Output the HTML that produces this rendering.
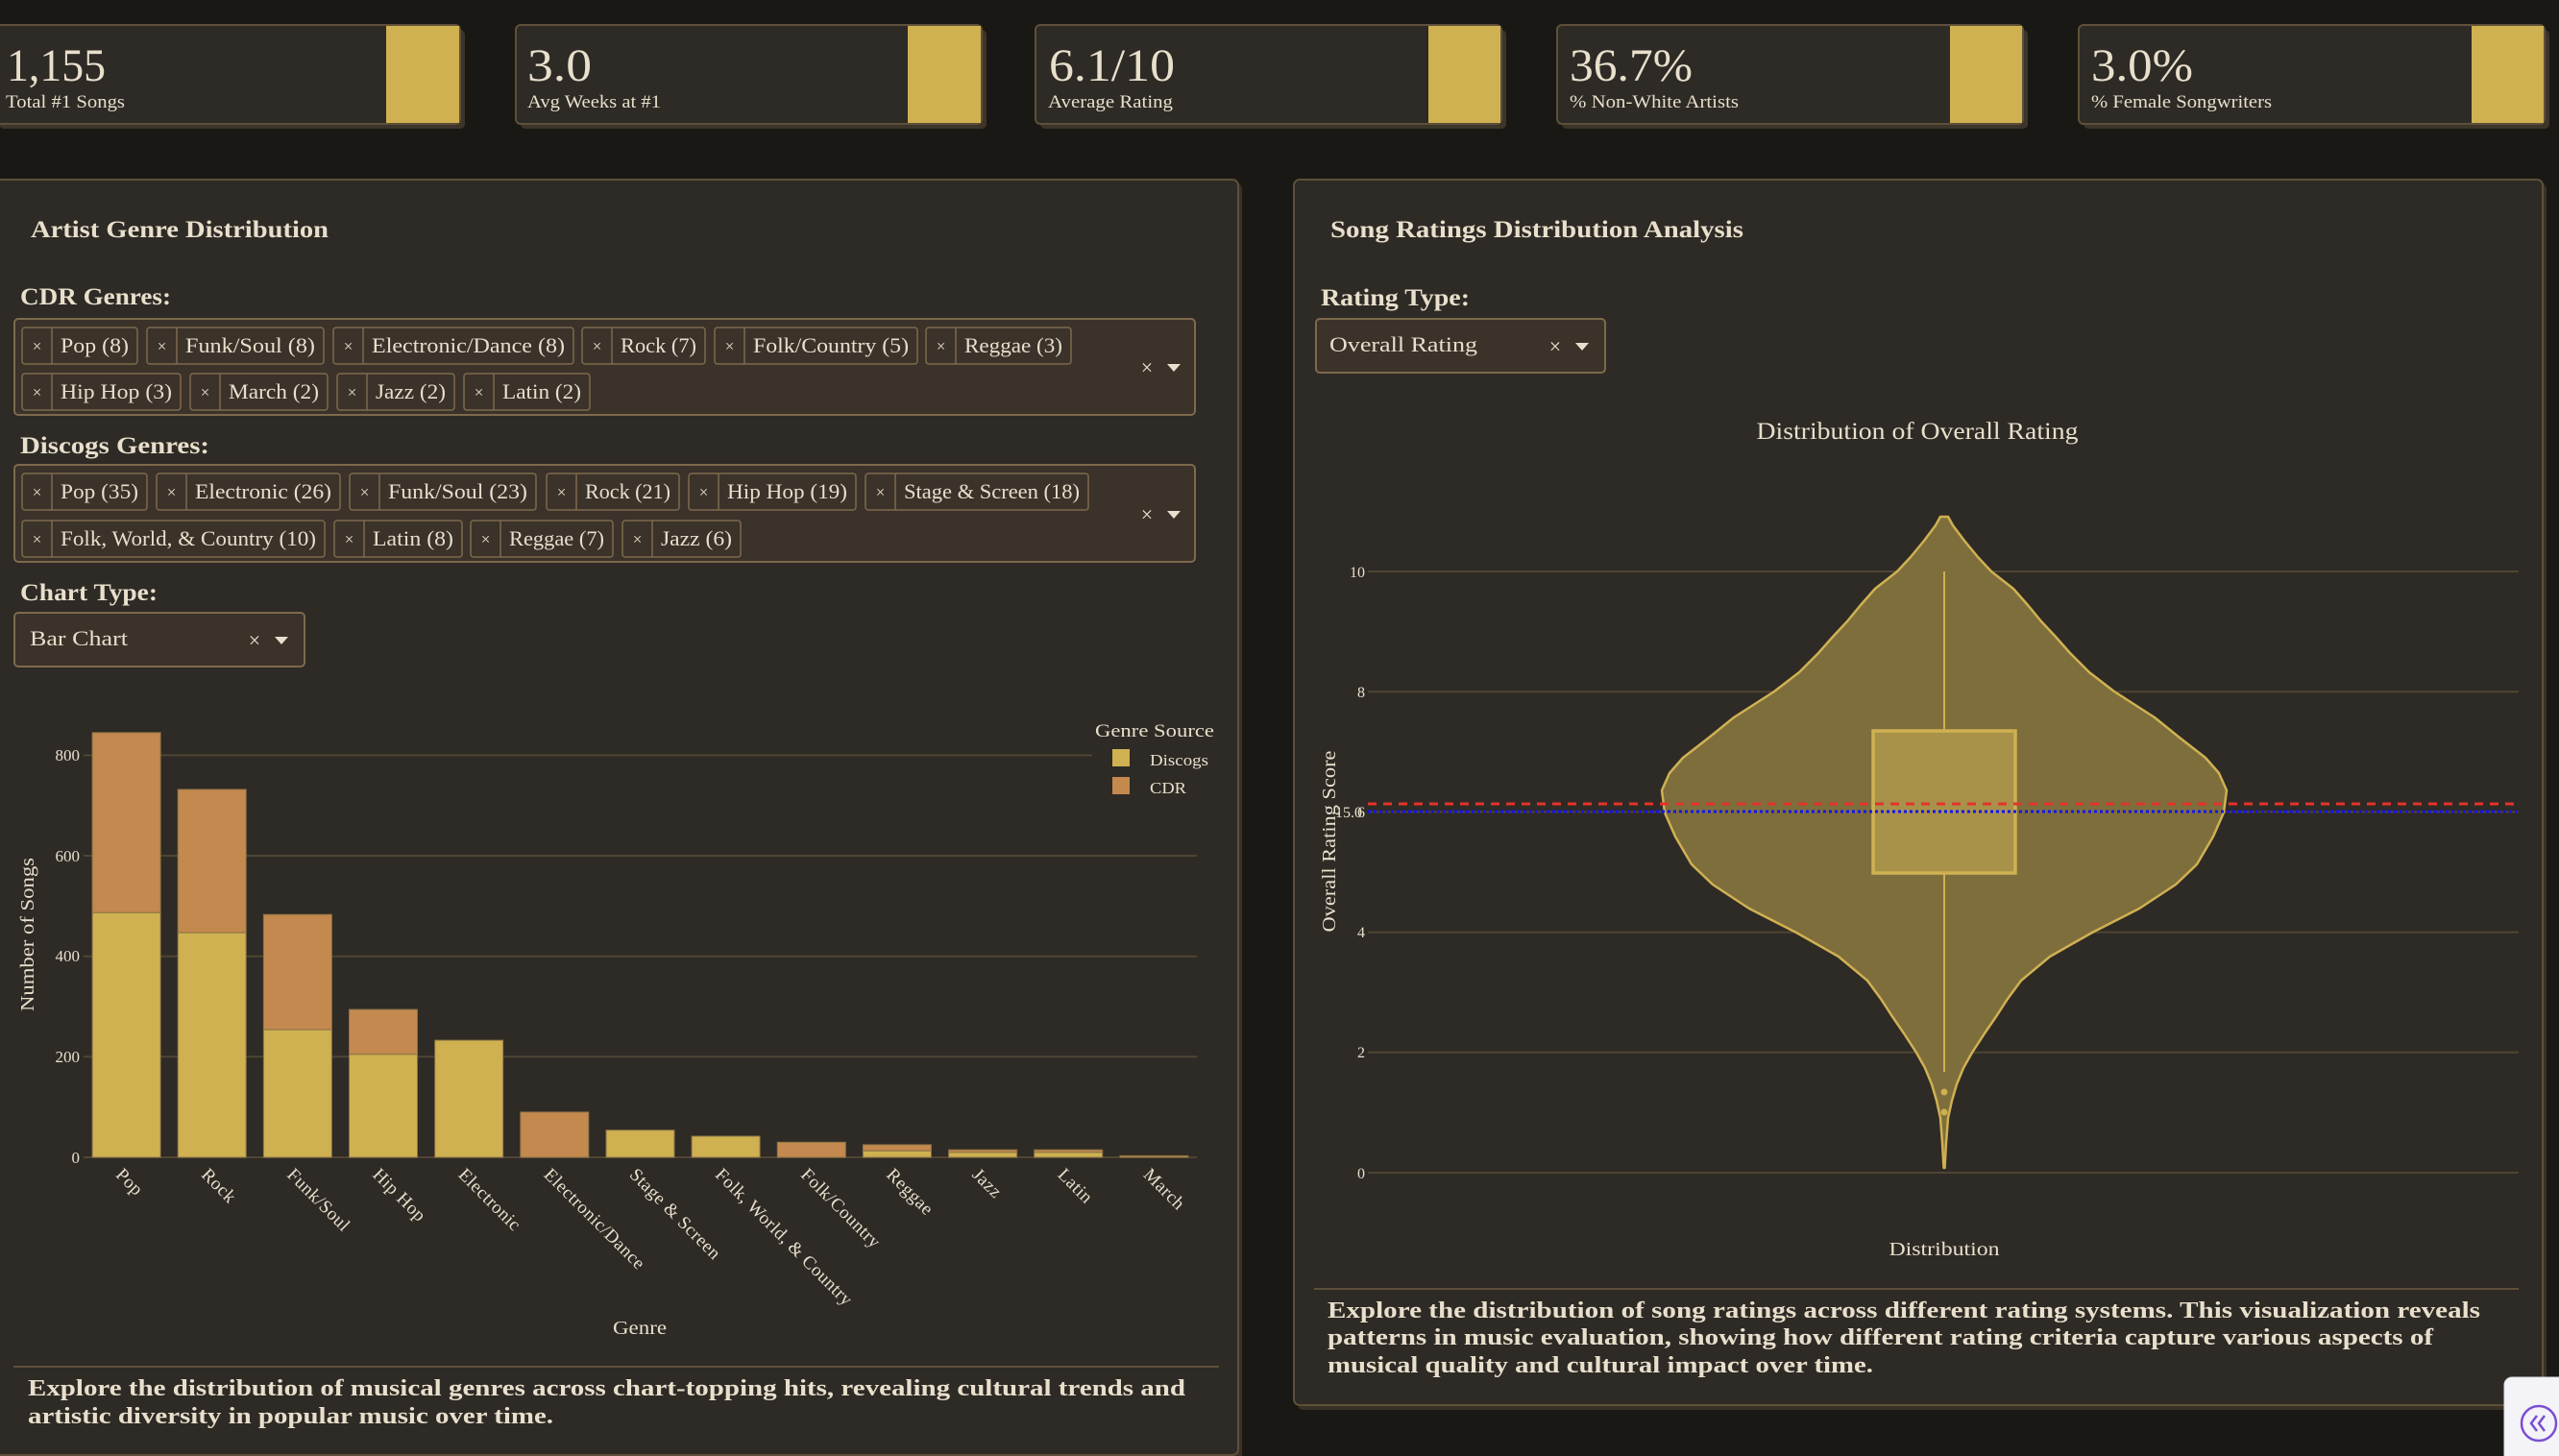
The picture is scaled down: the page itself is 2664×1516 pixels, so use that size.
<!DOCTYPE html>
<html><head><meta charset="utf-8"><style>
html,body{margin:0;padding:0;background:#1a1814;}
body{width:2664px;height:1516px;overflow:hidden;}
svg{display:block;}
text{font-family:"Liberation Serif",serif;fill:#e8dfcc;}
.b{font-weight:bold;}
</style></head><body>
<svg width="2664" height="1516" viewBox="0 0 2664 1516" xmlns="http://www.w3.org/2000/svg">
<rect x="0" y="0" width="2664" height="1516" fill="#1a1814"/>

<!-- KPI cards -->
<g>
<rect x="-1" y="31" width="485" height="103" rx="5" fill="#3d3529"/>
<rect x="-6" y="26" width="485" height="103" rx="5" fill="#2e2a25" stroke="#5e503a" stroke-width="2"/>
<rect x="402" y="27" width="76" height="101" fill="#cfb152"/>
<text x="7" y="84" font-size="48" textLength="103" lengthAdjust="spacingAndGlyphs">1,155</text>
<text x="6" y="112" font-size="19" textLength="124" lengthAdjust="spacingAndGlyphs">Total #1 Songs</text>

<rect x="542" y="31" width="485" height="103" rx="5" fill="#3d3529"/>
<rect x="537" y="26" width="485" height="103" rx="5" fill="#2e2a25" stroke="#5e503a" stroke-width="2"/>
<rect x="945" y="27" width="76" height="101" fill="#cfb152"/>
<text x="549" y="84" font-size="48" textLength="67" lengthAdjust="spacingAndGlyphs">3.0</text>
<text x="549" y="112" font-size="19" textLength="139" lengthAdjust="spacingAndGlyphs">Avg Weeks at #1</text>

<rect x="1083" y="31" width="485" height="103" rx="5" fill="#3d3529"/>
<rect x="1078" y="26" width="485" height="103" rx="5" fill="#2e2a25" stroke="#5e503a" stroke-width="2"/>
<rect x="1487" y="27" width="75" height="101" fill="#cfb152"/>
<text x="1092" y="84" font-size="48" textLength="131" lengthAdjust="spacingAndGlyphs">6.1/10</text>
<text x="1091" y="112" font-size="19" textLength="130" lengthAdjust="spacingAndGlyphs">Average Rating</text>

<rect x="1626" y="31" width="485" height="103" rx="5" fill="#3d3529"/>
<rect x="1621" y="26" width="485" height="103" rx="5" fill="#2e2a25" stroke="#5e503a" stroke-width="2"/>
<rect x="2030" y="27" width="75" height="101" fill="#cfb152"/>
<text x="1634" y="84" font-size="48" textLength="128" lengthAdjust="spacingAndGlyphs">36.7%</text>
<text x="1634" y="112" font-size="19" textLength="176" lengthAdjust="spacingAndGlyphs">% Non-White Artists</text>

<rect x="2169" y="31" width="485" height="103" rx="5" fill="#3d3529"/>
<rect x="2164" y="26" width="485" height="103" rx="5" fill="#2e2a25" stroke="#5e503a" stroke-width="2"/>
<rect x="2573" y="27" width="75" height="101" fill="#cfb152"/>
<text x="2177" y="84" font-size="48" textLength="106" lengthAdjust="spacingAndGlyphs">3.0%</text>
<text x="2177" y="112" font-size="19" textLength="188" lengthAdjust="spacingAndGlyphs">% Female Songwriters</text>
</g>

<!-- Panels -->
<rect x="-4" y="191" width="1297" height="1340" rx="6" fill="#3a3226"/>
<rect x="-8" y="187" width="1297" height="1328" rx="6" fill="#2e2a25" stroke="#5e503a" stroke-width="2"/>
<rect x="1351" y="191" width="1300" height="1277" rx="6" fill="#3a3226"/>
<rect x="1347" y="187" width="1300" height="1276" rx="6" fill="#2e2a25" stroke="#5e503a" stroke-width="2"/>

<!-- Left panel header & controls -->
<text class="b" x="32" y="247" font-size="25" textLength="310" lengthAdjust="spacingAndGlyphs">Artist Genre Distribution</text>
<text class="b" x="21" y="317" font-size="25" textLength="157" lengthAdjust="spacingAndGlyphs">CDR Genres:</text>
<rect x="15" y="332" width="1229" height="100" rx="4" fill="#3b322a" stroke="#7d6a4c" stroke-width="2"/>
<text class="b" x="21" y="472" font-size="25" textLength="197" lengthAdjust="spacingAndGlyphs">Discogs Genres:</text>
<rect x="15" y="484" width="1229" height="101" rx="4" fill="#3b322a" stroke="#7d6a4c" stroke-width="2"/>
<text class="b" x="21" y="625" font-size="25" textLength="143" lengthAdjust="spacingAndGlyphs">Chart Type:</text>
<rect x="15" y="638" width="302" height="56" rx="4" fill="#3b322a" stroke="#7d6a4c" stroke-width="2"/>
<text x="31" y="672" font-size="22" textLength="102" lengthAdjust="spacingAndGlyphs">Bar Chart</text>
<text x="265" y="674" font-size="22" text-anchor="middle">×</text>
<polygon points="286,663 300,663 293,671" fill="#e8dfcc"/>

<!-- clear/dropdown icons in multi-selects -->
<text x="1194" y="390" font-size="22" text-anchor="middle">×</text>
<polygon points="1215,379 1229,379 1222,387" fill="#e8dfcc"/>
<text x="1194" y="543" font-size="22" text-anchor="middle">×</text>
<polygon points="1215,532 1229,532 1222,540" fill="#e8dfcc"/>

<!-- chips -->
<g stroke="#7d6a4c" stroke-width="1.5" fill="#3b322a">
<rect x="23" y="341" width="120" height="38" rx="3"/><rect x="153" y="341" width="184" height="38" rx="3"/><rect x="347" y="341" width="250" height="38" rx="3"/><rect x="606" y="341" width="128" height="38" rx="3"/><rect x="744" y="341" width="211" height="38" rx="3"/><rect x="964" y="341" width="151" height="38" rx="3"/>
<rect x="23" y="389" width="165" height="38" rx="3"/><rect x="198" y="389" width="143" height="38" rx="3"/><rect x="351" y="389" width="122" height="38" rx="3"/><rect x="483" y="389" width="131" height="38" rx="3"/>
<rect x="23" y="493" width="130" height="38" rx="3"/><rect x="163" y="493" width="191" height="38" rx="3"/><rect x="364" y="493" width="194" height="38" rx="3"/><rect x="569" y="493" width="138" height="38" rx="3"/><rect x="717" y="493" width="174" height="38" rx="3"/><rect x="901" y="493" width="232" height="38" rx="3"/>
<rect x="23" y="542" width="315" height="38" rx="3"/><rect x="348" y="542" width="133" height="38" rx="3"/><rect x="490" y="542" width="148" height="38" rx="3"/><rect x="648" y="542" width="123" height="38" rx="3"/>
</g>
<g stroke="#7d6a4c" stroke-width="1.5">
<line x1="54" y1="341" x2="54" y2="379"/><line x1="184" y1="341" x2="184" y2="379"/><line x1="378" y1="341" x2="378" y2="379"/><line x1="637" y1="341" x2="637" y2="379"/><line x1="775" y1="341" x2="775" y2="379"/><line x1="995" y1="341" x2="995" y2="379"/>
<line x1="54" y1="389" x2="54" y2="427"/><line x1="229" y1="389" x2="229" y2="427"/><line x1="382" y1="389" x2="382" y2="427"/><line x1="514" y1="389" x2="514" y2="427"/>
<line x1="54" y1="493" x2="54" y2="531"/><line x1="194" y1="493" x2="194" y2="531"/><line x1="395" y1="493" x2="395" y2="531"/><line x1="600" y1="493" x2="600" y2="531"/><line x1="748" y1="493" x2="748" y2="531"/><line x1="932" y1="493" x2="932" y2="531"/>
<line x1="54" y1="542" x2="54" y2="580"/><line x1="379" y1="542" x2="379" y2="580"/><line x1="521" y1="542" x2="521" y2="580"/><line x1="679" y1="542" x2="679" y2="580"/>
</g>
<g font-size="17" text-anchor="middle">
<text x="38.5" y="366">×</text><text x="168.5" y="366">×</text><text x="362.5" y="366">×</text><text x="621.5" y="366">×</text><text x="759.5" y="366">×</text><text x="979.5" y="366">×</text>
<text x="38.5" y="414">×</text><text x="213.5" y="414">×</text><text x="366.5" y="414">×</text><text x="498.5" y="414">×</text>
<text x="38.5" y="518">×</text><text x="178.5" y="518">×</text><text x="379.5" y="518">×</text><text x="584.5" y="518">×</text><text x="732.5" y="518">×</text><text x="916.5" y="518">×</text>
<text x="38.5" y="567">×</text><text x="363.5" y="567">×</text><text x="505.5" y="567">×</text><text x="663.5" y="567">×</text>
</g>
<g font-size="22">
<text x="63" y="367" textLength="71" lengthAdjust="spacingAndGlyphs">Pop (8)</text>
<text x="193" y="367" textLength="135" lengthAdjust="spacingAndGlyphs">Funk/Soul (8)</text>
<text x="387" y="367" textLength="201" lengthAdjust="spacingAndGlyphs">Electronic/Dance (8)</text>
<text x="646" y="367" textLength="79" lengthAdjust="spacingAndGlyphs">Rock (7)</text>
<text x="784" y="367" textLength="162" lengthAdjust="spacingAndGlyphs">Folk/Country (5)</text>
<text x="1004" y="367" textLength="102" lengthAdjust="spacingAndGlyphs">Reggae (3)</text>
<text x="63" y="415" textLength="116" lengthAdjust="spacingAndGlyphs">Hip Hop (3)</text>
<text x="238" y="415" textLength="94" lengthAdjust="spacingAndGlyphs">March (2)</text>
<text x="391" y="415" textLength="73" lengthAdjust="spacingAndGlyphs">Jazz (2)</text>
<text x="523" y="415" textLength="82" lengthAdjust="spacingAndGlyphs">Latin (2)</text>
<text x="63" y="519" textLength="81" lengthAdjust="spacingAndGlyphs">Pop (35)</text>
<text x="203" y="519" textLength="142" lengthAdjust="spacingAndGlyphs">Electronic (26)</text>
<text x="404" y="519" textLength="145" lengthAdjust="spacingAndGlyphs">Funk/Soul (23)</text>
<text x="609" y="519" textLength="89" lengthAdjust="spacingAndGlyphs">Rock (21)</text>
<text x="757" y="519" textLength="125" lengthAdjust="spacingAndGlyphs">Hip Hop (19)</text>
<text x="941" y="519" textLength="183" lengthAdjust="spacingAndGlyphs">Stage &amp; Screen (18)</text>
<text x="63" y="568" textLength="266" lengthAdjust="spacingAndGlyphs">Folk, World, &amp; Country (10)</text>
<text x="388" y="568" textLength="84" lengthAdjust="spacingAndGlyphs">Latin (8)</text>
<text x="530" y="568" textLength="99" lengthAdjust="spacingAndGlyphs">Reggae (7)</text>
<text x="688" y="568" textLength="74" lengthAdjust="spacingAndGlyphs">Jazz (6)</text>
</g>

<!-- Bar chart -->
<g stroke="#4f4533" stroke-width="2">
<line x1="87" y1="786.4" x2="1246" y2="786.4"/>
<line x1="87" y1="891" x2="1246" y2="891"/>
<line x1="87" y1="995.7" x2="1246" y2="995.7"/>
<line x1="87" y1="1100.3" x2="1246" y2="1100.3"/>
<line x1="87" y1="1205" x2="1246" y2="1205"/>
</g>
<g font-size="17" text-anchor="end">
<text x="83" y="792">800</text><text x="83" y="897">600</text><text x="83" y="1001">400</text><text x="83" y="1106">200</text><text x="83" y="1211">0</text>
</g>
<g stroke="#8a7446" stroke-width="1">
<rect x="96.1" y="950.2" width="71" height="254.8" fill="#cfb152"/>
<rect x="96.1" y="762.8" width="71" height="187.4" fill="#c4894e"/>
<rect x="185.2" y="971.1" width="71" height="233.9" fill="#cfb152"/>
<rect x="185.2" y="821.9" width="71" height="149.2" fill="#c4894e"/>
<rect x="274.4" y="1072.1" width="71" height="132.9" fill="#cfb152"/>
<rect x="274.4" y="952.2" width="71" height="119.9" fill="#c4894e"/>
<rect x="363.5" y="1097.7" width="71" height="107.3" fill="#cfb152"/>
<rect x="363.5" y="1051.1" width="71" height="46.6" fill="#c4894e"/>
<rect x="452.7" y="1083.1" width="71" height="121.9" fill="#cfb152"/>
<rect x="541.8" y="1157.9" width="71" height="47.1" fill="#c4894e"/>
<rect x="631" y="1176.7" width="71" height="28.3" fill="#cfb152"/>
<rect x="720.1" y="1183" width="71" height="22" fill="#cfb152"/>
<rect x="809.3" y="1189.3" width="71" height="15.7" fill="#c4894e"/>
<rect x="898.4" y="1198.2" width="71" height="6.8" fill="#cfb152"/>
<rect x="898.4" y="1191.9" width="71" height="6.3" fill="#c4894e"/>
<rect x="987.6" y="1199.8" width="71" height="5.2" fill="#cfb152"/>
<rect x="987.6" y="1197.2" width="71" height="2.6" fill="#c4894e"/>
<rect x="1076.7" y="1199.8" width="71" height="5.2" fill="#cfb152"/>
<rect x="1076.7" y="1197.2" width="71" height="2.6" fill="#c4894e"/>
<rect x="1165.9" y="1203.4" width="71" height="1.6" fill="#c4894e"/>
</g>
<!-- legend -->
<rect x="1137" y="748" width="130" height="90" fill="#2e2a25"/>
<text x="1140" y="767" font-size="19" textLength="124" lengthAdjust="spacingAndGlyphs">Genre Source</text>
<rect x="1158" y="780" width="18" height="18" fill="#cfb152"/>
<text x="1197" y="797" font-size="17" textLength="61" lengthAdjust="spacingAndGlyphs">Discogs</text>
<rect x="1158" y="809" width="18" height="18" fill="#c4894e"/>
<text x="1197" y="826" font-size="17" textLength="38" lengthAdjust="spacingAndGlyphs">CDR</text>
<!-- x tick labels -->
<g font-size="19" letter-spacing="0.5">
<text transform="translate(119.6,1224) rotate(45)">Pop</text>
<text transform="translate(208.7,1224) rotate(45)">Rock</text>
<text transform="translate(297.9,1224) rotate(45)">Funk/Soul</text>
<text transform="translate(387,1224) rotate(45)">Hip Hop</text>
<text transform="translate(476.2,1224) rotate(45)">Electronic</text>
<text transform="translate(565.3,1224) rotate(45)">Electronic/Dance</text>
<text transform="translate(654.5,1224) rotate(45)">Stage &amp; Screen</text>
<text transform="translate(743.6,1224) rotate(45)">Folk, World, &amp; Country</text>
<text transform="translate(832.8,1224) rotate(45)">Folk/Country</text>
<text transform="translate(921.9,1224) rotate(45)">Reggae</text>
<text transform="translate(1011.1,1224) rotate(45)">Jazz</text>
<text transform="translate(1100.2,1224) rotate(45)">Latin</text>
<text transform="translate(1189.4,1224) rotate(45)">March</text>
</g>
<text x="666" y="1389" font-size="20" text-anchor="middle" textLength="56" lengthAdjust="spacingAndGlyphs">Genre</text>
<text transform="translate(35,973) rotate(-90)" font-size="20" text-anchor="middle" textLength="160" lengthAdjust="spacingAndGlyphs">Number of Songs</text>

<line x1="14" y1="1423" x2="1269" y2="1423" stroke="#5e503a" stroke-width="2"/>
<text class="b" x="29" y="1453" font-size="24" textLength="1205" lengthAdjust="spacingAndGlyphs">Explore the distribution of musical genres across chart-topping hits, revealing cultural trends and</text>
<text class="b" x="29" y="1482" font-size="24" textLength="547" lengthAdjust="spacingAndGlyphs">artistic diversity in popular music over time.</text>

<!-- Right panel -->
<text class="b" x="1385" y="247" font-size="25" textLength="430" lengthAdjust="spacingAndGlyphs">Song Ratings Distribution Analysis</text>
<text class="b" x="1375" y="318" font-size="25" textLength="155" lengthAdjust="spacingAndGlyphs">Rating Type:</text>
<rect x="1370" y="332" width="301" height="56" rx="4" fill="#3b322a" stroke="#7d6a4c" stroke-width="2"/>
<text x="1384" y="366" font-size="22" textLength="154" lengthAdjust="spacingAndGlyphs">Overall Rating</text>
<text x="1619" y="368" font-size="22" text-anchor="middle">×</text>
<polygon points="1640,357 1654,357 1647,365" fill="#e8dfcc"/>

<text x="1996" y="457" font-size="25" text-anchor="middle" textLength="335" lengthAdjust="spacingAndGlyphs">Distribution of Overall Rating</text>

<g stroke="#4f4533" stroke-width="2">
<line x1="1424" y1="595" x2="2622" y2="595"/>
<line x1="1424" y1="720.2" x2="2622" y2="720.2"/>
<line x1="1424" y1="845.4" x2="2622" y2="845.4"/>
<line x1="1424" y1="970.6" x2="2622" y2="970.6"/>
<line x1="1424" y1="1095.8" x2="2622" y2="1095.8"/>
<line x1="1424" y1="1221" x2="2622" y2="1221"/>
</g>
<g font-size="16" text-anchor="end">
<text x="1421" y="601">10</text><text x="1421" y="726">8</text><text x="1421" y="851">6</text><text x="1418" y="851">15.0</text><text x="1421" y="976">4</text><text x="1421" y="1101">2</text><text x="1421" y="1227">0</text>
</g>

<!-- violin -->
<polygon fill="#7e6e3c" stroke="#cfb152" stroke-width="2.5" stroke-linejoin="round" points="
2020,538 2015,547 2003,563 1989,580 1975,595 1952,613 1937,630 1923,647 1908,663 1893,680 1873,700 1847,720 1805,747 1779,768 1752,789 1738,805 1730,823 1733,846 1744,871 1761,900 1783,921 1821,946 1870,971 1914,996 1944,1021 1958,1040 1969,1057 1982,1076 1995,1096 2004,1112 2011,1129 2016,1146 2020,1164 2022,1190 2023.5,1216
2024.5,1216 2026,1190 2028,1164 2032,1146 2037,1129 2044,1112 2053,1096 2066,1076 2079,1057 2090,1040 2104,1021 2134,996 2178,971 2227,946 2265,921 2287,900 2304,871 2315,846 2318,823 2310,805 2296,789 2269,768 2243,747 2201,720 2175,700 2155,680 2140,663 2125,647 2111,630 2096,613 2073,595 2059,580 2045,563 2033,547 2028,538"/>
<line x1="2024" y1="595" x2="2024" y2="761" stroke="#cfb152" stroke-width="2"/>
<line x1="2024" y1="909" x2="2024" y2="1116" stroke="#cfb152" stroke-width="2"/>
<rect x="1950" y="761" width="148" height="148" fill="#a8924a" stroke="#cfb152" stroke-width="3.5"/>
<circle cx="2024" cy="1137" r="3.5" fill="#cfb152"/>
<circle cx="2024" cy="1158" r="3.5" fill="#cfb152"/>
<line x1="1424" y1="837" x2="2622" y2="837" stroke="#e3342a" stroke-width="3" stroke-dasharray="9,7"/>
<line x1="1424" y1="845" x2="2622" y2="845" stroke="#1414f0" stroke-width="3" stroke-dasharray="3,3"/>

<text x="2024" y="1307" font-size="20" text-anchor="middle" textLength="115" lengthAdjust="spacingAndGlyphs">Distribution</text>
<text transform="translate(1390,876) rotate(-90)" font-size="20" text-anchor="middle" textLength="189" lengthAdjust="spacingAndGlyphs">Overall Rating Score</text>

<line x1="1368" y1="1342" x2="2622" y2="1342" stroke="#5e503a" stroke-width="2"/>
<text class="b" x="1382" y="1372" font-size="24" textLength="1200" lengthAdjust="spacingAndGlyphs">Explore the distribution of song ratings across different rating systems. This visualization reveals</text>
<text class="b" x="1382" y="1400" font-size="24" textLength="1151" lengthAdjust="spacingAndGlyphs">patterns in music evaluation, showing how different rating criteria capture various aspects of</text>
<text class="b" x="1382" y="1429" font-size="24" textLength="568" lengthAdjust="spacingAndGlyphs">musical quality and cultural impact over time.</text>

<!-- corner widget -->
<rect x="2607" y="1434" width="70" height="100" rx="8" fill="#f3f3f8" stroke="#dcdce6" stroke-width="1"/>
<circle cx="2643" cy="1482" r="18" fill="none" stroke="#7a4fd0" stroke-width="2.5"/>
<path d="M2641,1474 L2635,1482 L2641,1490 M2649,1474 L2643,1482 L2649,1490" fill="none" stroke="#7a4fd0" stroke-width="2.5"/>
</svg>
</body></html>
